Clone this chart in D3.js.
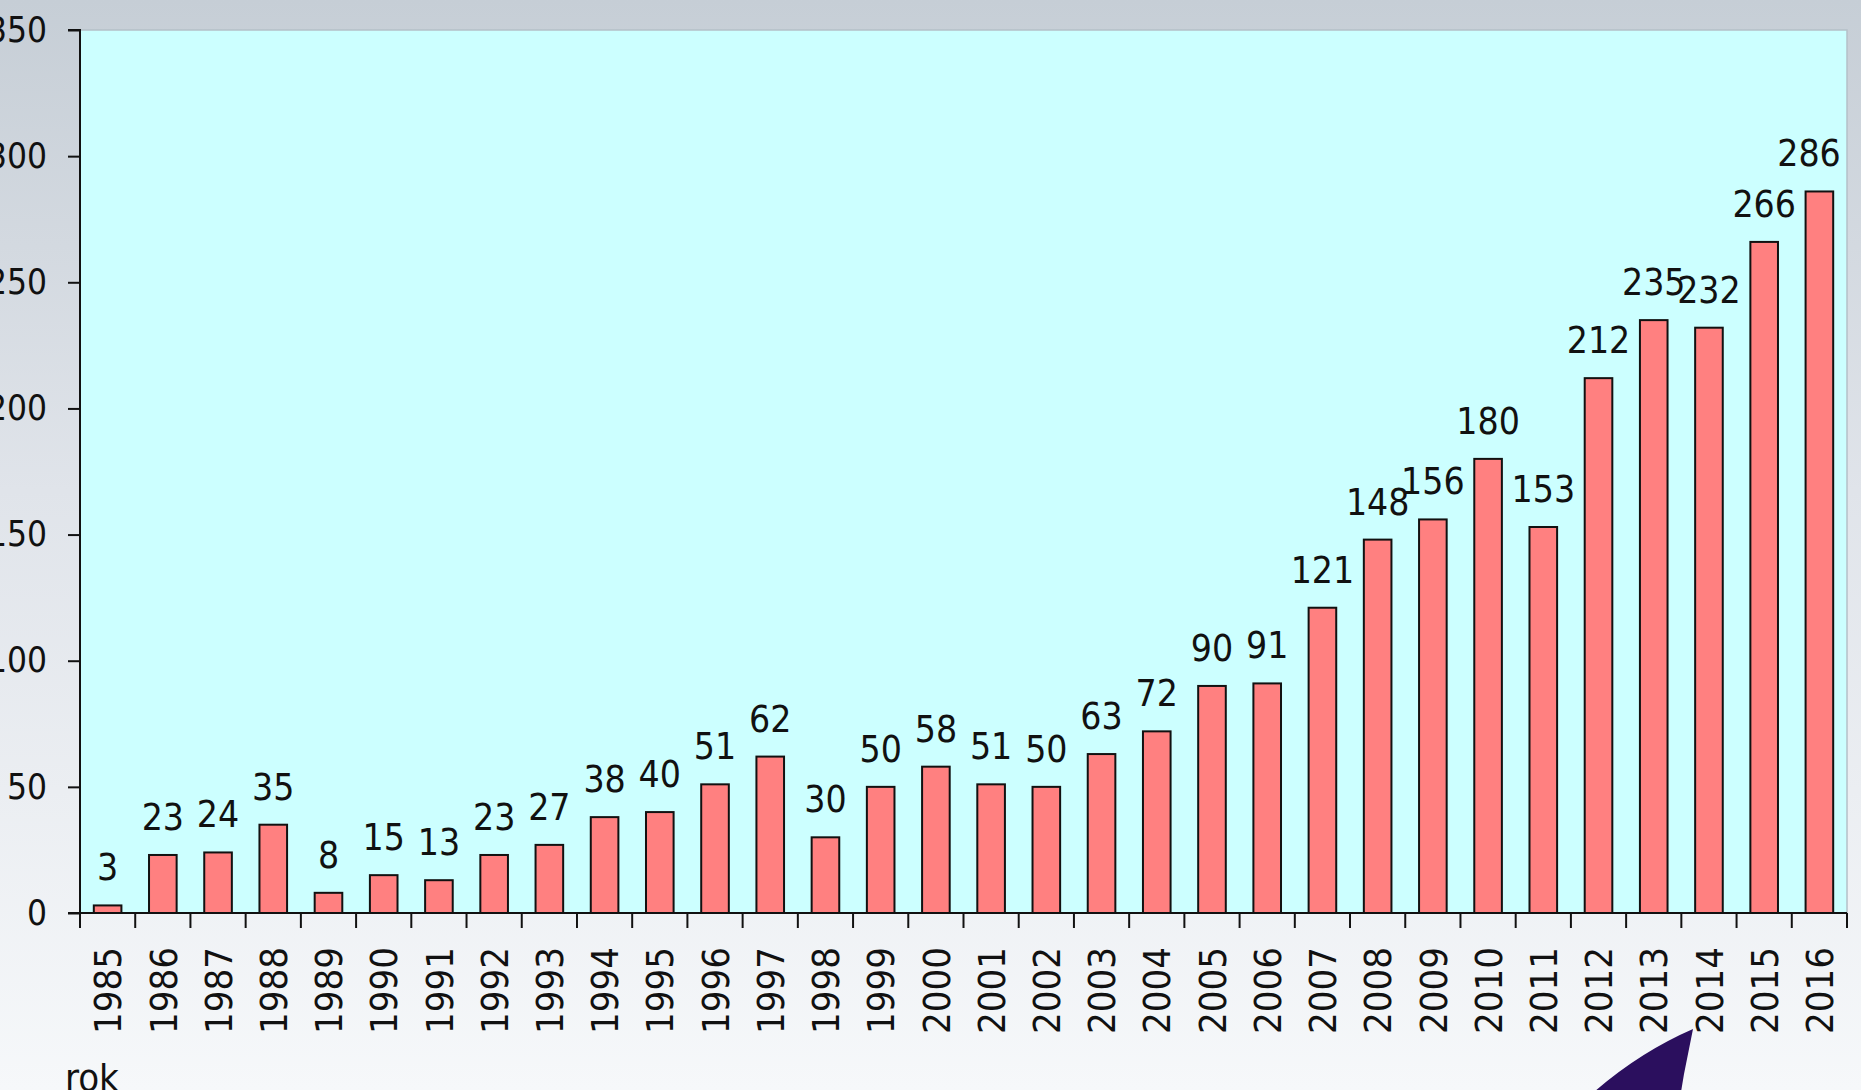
<!DOCTYPE html>
<html>
<head>
<meta charset="utf-8">
<script src="https://cdn.jsdelivr.net/npm/d3@7"></script>
<style>
  html, body { margin: 0; padding: 0; overflow: hidden; }
  text { font-family: "DejaVu Sans Condensed", "DejaVu Sans", sans-serif; fill: #111; }
</style>
</head>
<body>
<div id="chart"></div>
<script>
/* Bar chart: liczba na rok, 1985-2016 */

const years = d3.range(1985, 2017).map(String);
const counts = [3, 23, 24, 35, 8, 15, 13, 23, 27, 38, 40, 51, 62, 30, 50, 58,
                51, 50, 63, 72, 90, 91, 121, 148, 156, 180, 153, 212, 235, 232, 266, 286];
const yTicks = [0, 50, 100, 150, 200, 250, 300, 350];
const xTitle = "rok";

const data = years.map((y, i) => ({year: y, value: counts[i]}));

const width = 1861,
      height = 1090,
      margin = ({top: 30, right: 14, bottom: 177, left: 80});

let svg = d3.select("#chart")
    .append("svg")
    .attr("width", width)
    .attr("height", height);

// background gradient
let defs = svg.append("defs");
let grad = defs.append("linearGradient")
    .attr("id", "bg")
    .attr("x1", 0).attr("y1", 0).attr("x2", 0).attr("y2", 1);
grad.append("stop").attr("offset", "0%").attr("stop-color", "#c6ced6");
grad.append("stop").attr("offset", "45%").attr("stop-color", "#e0e4ea");
grad.append("stop").attr("offset", "100%").attr("stop-color", "#f6f8fa");

svg.append("rect")
    .attr("width", width).attr("height", height)
    .attr("fill", "url(#bg)");

// category bands (no padding) -> ticks at boundaries
let xCat = d3.scaleBand()
    .domain(years)
    .range([margin.left, width - margin.right])
    .padding(0);

// bars
let x = d3.scaleBand()
    .domain(years)
    .range([margin.left, width - margin.right])
    .paddingInner(0.5)
    .paddingOuter(0.25);

let y = d3.scaleLinear()
    .domain([0, 350])
    .range([height - margin.bottom, margin.top]);

// plot area
svg.append("rect")
    .attr("x", margin.left)
    .attr("y", margin.top)
    .attr("width", width - margin.right - margin.left)
    .attr("height", y(0) - margin.top)
    .attr("fill", "#ccffff")
    .attr("stroke", "#b4c0c8")
    .attr("stroke-width", 1.5);

// bars
svg.selectAll(".bar")
    .data(data)
    .join("rect")
    .attr("class", "bar")
    .attr("x", d => x(d.year))
    .attr("width", x.bandwidth())
    .attr("y", d => y(d.value))
    .attr("height", d => y(0) - y(d.value))
    .attr("fill", "#ff8080")
    .attr("stroke", "#111")
    .attr("stroke-width", 2);

// value labels
svg.selectAll(".val")
    .data(data)
    .join("text")
    .attr("class", "val")
    .attr("x", d => Math.min(x(d.year) + x.bandwidth() / 2, width - margin.right - 38))
    .attr("y", d => y(d.value) - 25)
    .attr("text-anchor", "middle")
    .attr("font-size", 37)
    .text(d => d.value);

// y axis
let yAxis = svg.append("g")
    .attr("transform", `translate(${margin.left},0)`)
    .call(d3.axisLeft(y).tickValues(yTicks).tickSize(12).tickPadding(21).tickSizeOuter(0));
yAxis.selectAll("text").attr("font-size", 35).attr("fill", "#111");
yAxis.selectAll("line, path").attr("stroke", "#111").attr("stroke-width", 2);
yAxis.select(".domain").attr("d", `M0,${y(0)}V${margin.top}H-12`);

// x axis (labels at centres, ticks at boundaries)
let xAxis = svg.append("g")
    .attr("transform", `translate(0,${y(0)})`)
    .call(d3.axisBottom(xCat).tickSize(0).tickSizeOuter(0));
xAxis.select(".domain").attr("stroke", "#111").attr("stroke-width", 2)
    .attr("d", `M${margin.left - 12},0H${width - margin.right}`);
xAxis.selectAll(".tick text")
    .attr("font-size", 38)
    .attr("fill", "#111")
    .attr("transform", "rotate(-90)")
    .attr("text-anchor", "end")
    .attr("x", -34)
    .attr("y", 0)
    .attr("dy", "0.36em");

let bounds = years.map(d => xCat(d)).concat([width - margin.right]);
xAxis.selectAll(".bound")
    .data(bounds)
    .join("line")
    .attr("class", "bound")
    .attr("x1", d => d).attr("x2", d => d)
    .attr("y1", 0).attr("y2", 15)
    .attr("stroke", "#111")
    .attr("stroke-width", 2);

// axis title
svg.append("text")
    .attr("x", 65)
    .attr("y", 1091)
    .attr("font-size", 38)
    .text(xTitle);

// decorative swoosh at bottom
svg.append("path")
    .attr("d", "M1693,1029 Q1640,1052 1594,1092 L1681,1092 L1684,1074 Z")
    .attr("fill", "#2b0f5e");
</script>
</body>
</html>
